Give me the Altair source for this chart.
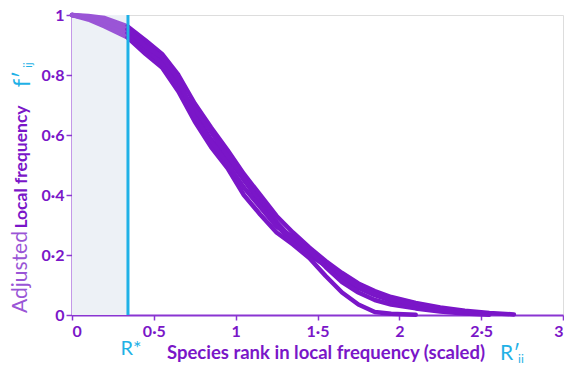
import altair as alt
import pandas as pd

# ---- data ----
R_STAR = 0.342
x_knots = [0, 0.1, 0.2, 0.34, 0.45, 0.55, 0.65, 0.75, 0.85, 0.95, 1.05, 1.15, 1.25,
           1.35, 1.45, 1.55, 1.65, 1.75, 1.85, 1.95, 2.1, 2.25, 2.4, 2.55, 2.7]
curve_1 = [1, 0.997, 0.99, 0.962, 0.915, 0.87, 0.80, 0.705, 0.625, 0.55, 0.47, 0.40, 0.33,
           0.275, 0.225, 0.18, 0.14, 0.105, 0.08, 0.06, 0.04, 0.025, 0.014, 0.007, 0.002]
curve_2 = [1, 0.99, 0.975, 0.945, 0.905, 0.855, 0.775, 0.67, 0.585, 0.525, 0.45, 0.38, 0.31,
           0.25, 0.20, 0.165, 0.125, 0.09, 0.066, 0.048, 0.03, 0.018, 0.009, 0.003]
curve_3 = [1, 0.985, 0.962, 0.925, 0.87, 0.825, 0.745, 0.645, 0.56, 0.49, 0.40, 0.335, 0.275,
           0.235, 0.19, 0.13, 0.075, 0.035, 0.01, 0.004, 0.001]
curve_4 = [1, 0.99, 0.972, 0.94, 0.885, 0.84, 0.765, 0.685, 0.61, 0.53, 0.455, 0.37, 0.30,
           0.24, 0.205, 0.17, 0.13, 0.095, 0.07, 0.052, 0.034, 0.02, 0.011, 0.004]
curve_5 = [1, 0.993, 0.98, 0.952, 0.895, 0.86, 0.785, 0.66, 0.58, 0.505, 0.425, 0.36, 0.295,
           0.26, 0.215, 0.16, 0.11, 0.075, 0.05, 0.035, 0.022, 0.012, 0.005, 0.001]
curves = {"c1": curve_1, "c2": curve_2, "c3": curve_3, "c4": curve_4, "c5": curve_5}

x_ticks = [0, 0.5, 1, 1.5, 2, 2.5, 3]
y_ticks = [0, 0.2, 0.4, 0.6, 0.8, 1]

PURPLE = "#7a16c8"
LIGHT_PURPLE = "#9a55d6"
AXIS_PURPLE = "#8a35d2"
CYAN = "#1fb1e6"
SHADE = "#edf1f6"
FONT = "Lato"

rows = []
for name, vals in curves.items():
    for xv, yv in zip(x_knots, vals):
        if xv <= 0.34:
            rows.append({"x": xv, "y": yv, "curve": name, "part": "pre"})
        if xv >= 0.34:
            rows.append({"x": xv, "y": yv, "curve": name, "part": "post"})
df = pd.DataFrame(rows)

xscale = alt.Scale(domain=[0, 3], nice=False, zero=False)
yscale = alt.Scale(domain=[0, 1], nice=False, zero=False)

label_expr = "replace(format(datum.value, '~g'), '.', '·')"

shade = alt.Chart(pd.DataFrame({"x0": [0], "x1": [R_STAR], "y0": [0], "y1": [1]})).mark_rect(
    color=SHADE
).encode(
    x=alt.X("x0:Q", scale=xscale,
            axis=alt.Axis(values=x_ticks, labelExpr=label_expr, title=None, grid=False,
                          domainColor=AXIS_PURPLE, domainWidth=2, tickColor=AXIS_PURPLE,
                          tickWidth=1.5, tickSize=5, labelFont=FONT, labelFontSize=16,
                          labelFontWeight="bold", labelColor=PURPLE, labelPadding=3)),
    x2="x1:Q",
    y=alt.Y("y0:Q", scale=yscale,
            axis=alt.Axis(values=y_ticks, labelExpr=label_expr, title=None, grid=False,
                          domainColor=AXIS_PURPLE, domainWidth=2, tickColor=AXIS_PURPLE,
                          tickWidth=1.5, tickSize=6, labelFont=FONT, labelFontSize=16,
                          labelFontWeight="bold", labelColor=PURPLE, labelPadding=2)),
    y2="y1:Q",
)

lines = alt.Chart(df).mark_line(strokeWidth=4.5, strokeJoin="round", strokeCap="round").encode(
    x=alt.X("x:Q", scale=xscale),
    y=alt.Y("y:Q", scale=yscale),
    color=alt.Color("part:N", scale=alt.Scale(domain=["pre", "post"], range=[LIGHT_PURPLE, PURPLE]),
                    legend=None),
    detail="curve:N",
    order="x:Q",
)

rstar_df = pd.DataFrame({"x": [R_STAR], "y0": [0], "y1": [1], "lab": ["R*"]})
rule = alt.Chart(rstar_df).mark_rule(color=CYAN, strokeWidth=3).encode(
    x=alt.X("x:Q", scale=xscale), y=alt.Y("y0:Q", scale=yscale), y2="y1:Q"
)
rstar_text = alt.Chart(rstar_df).mark_text(
    color=CYAN, font=FONT, fontSize=20, dx=3, baseline="middle"
).encode(x=alt.X("x:Q", scale=xscale), y=alt.value(334), text="lab:N")

one = pd.DataFrame({"a": [0]})


def label(text, x, y, size, color, weight="normal", angle=0, align="center", baseline="alphabetic"):
    return alt.Chart(one).mark_text(
        text=text, font=FONT, fontSize=size, color=color, fontWeight=weight,
        angle=angle, align=align, baseline=baseline
    ).encode(x=alt.value(x), y=alt.value(y))


texts = [
    label("Adjusted", -45, 257, 21, LIGHT_PURPLE, angle=270),
    label("Local frequency", -45, 152, 17.5, PURPLE, weight="bold", angle=270),
    label("f′", -42, 64, 24, CYAN, angle=270),
    label("ij", -40, 50, 11, CYAN, angle=270),
    label("Species rank in local frequency (scaled)", 254, 344, 18.5, PURPLE, weight="bold"),
    label("R′", 428, 345, 21, CYAN, align="left"),
    label("ij", 446, 348, 12, CYAN, align="left"),
]

chart = alt.layer(shade, lines, rule, rstar_text, *texts).properties(
    width=491, height=300,
    autosize=alt.AutoSizeParams(type="none"),
    padding={"left": 64, "top": 7, "right": 1, "bottom": 48},
).configure_view(stroke=AXIS_PURPLE, strokeWidth=2).configure(background="white")

chart.save("out.html", embed_options={"renderer": "svg", "actions": False})
